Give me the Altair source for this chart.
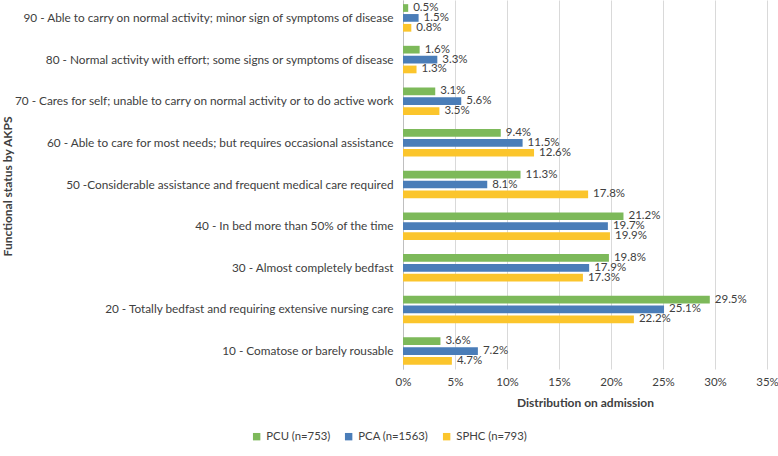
import altair as alt
import pandas as pd

categories = [
    "90 - Able to carry on normal activity; minor sign of symptoms of disease",
    "80 - Normal activity with effort; some signs or symptoms of disease",
    "70 - Cares for self; unable to carry on normal activity or to do active work",
    "60 - Able to care for most needs; but requires occasional assistance",
    "50 -Considerable assistance and frequent medical care required",
    "40 - In bed more than 50% of the time",
    "30 - Almost completely bedfast",
    "20 - Totally bedfast and requiring extensive nursing care",
    "10 - Comatose or barely rousable",
]
series = ["PCU (n=753)", "PCA (n=1563)", "SPHC (n=793)"]
pcu = [0.5, 1.6, 3.1, 9.4, 11.3, 21.2, 19.8, 29.5, 3.6]
pca = [1.5, 3.3, 5.6, 11.5, 8.1, 19.7, 17.9, 25.1, 7.2]
sphc = [0.8, 1.3, 3.5, 12.6, 17.8, 19.9, 17.3, 22.2, 4.7]
colors = ["#7DB95A", "#4A7DB8", "#FBC52C"]

rows = []
for name, vals in zip(series, [pcu, pca, sphc]):
    for cat, v in zip(categories, vals):
        rows.append({"status": cat, "group": name, "pct": v / 100.0,
                     "label": f"{v:.1f}%"})
df = pd.DataFrame(rows)

FONT = "Lato"
TXT = "#404040"

y_enc = alt.Y("status:N", sort=categories,
              scale=alt.Scale(paddingInner=0.34, paddingOuter=0.10),
              axis=alt.Axis(title="Functional status by AKPS", titleFontWeight="bold",
                            titleFontSize=12, titleColor=TXT, titleFont=FONT,
                            titleX=-389, titleY=186, titleAngle=-90,
                            labelFont=FONT, labelFontSize=11.8, labelColor=TXT,
                            labelLimit=500, labelPadding=10, ticks=False,
                            domainColor="#BFBFBF"))
yoff = alt.YOffset("group:N", sort=series, scale=alt.Scale(paddingInner=0.22))

base = alt.Chart(df).encode(
    y=y_enc,
    yOffset=yoff,
)

bars = base.mark_bar().encode(
    x=alt.X("pct:Q", scale=alt.Scale(domain=[0, 0.35]),
            axis=alt.Axis(format=".0%", values=[0, .05, .1, .15, .2, .25, .3, .35],
                          title="Distribution on admission", titleFontWeight="bold",
                          titleFontSize=12, titleColor=TXT, titleFont=FONT,
                          labelFont=FONT, labelFontSize=11.5, labelColor=TXT,
                          labelFlush=False,
                          ticks=False, domain=False, gridColor="#D9D9D9",
                          labelPadding=7, titlePadding=10)),
    color=alt.Color("group:N", sort=series,
                    scale=alt.Scale(domain=series, range=colors),
                    legend=alt.Legend(title=None, orient="none", direction="horizontal",
                                      legendX=-152, legendY=431,
                                      symbolType="square", symbolSize=55,
                                      symbolStrokeWidth=0,
                                      labelFont=FONT, labelFontSize=11.3,
                                      labelColor=TXT, labelOffset=4,
                                      columnPadding=12)),
)

labels = base.mark_text(align="left", baseline="middle", dx=5, font=FONT,
                        fontSize=11.5, color=TXT).encode(
    x="pct:Q",
    text="label:N",
)

chart = (bars + labels).properties(
    width=364, height=369,
    autosize=alt.AutoSizeParams(type="none"),
    padding={"left": 403, "top": 0, "right": 11, "bottom": 87},
).configure_view(stroke=None).configure_axisY(grid=False)

chart.save("out.html", embed_options={"renderer": "svg", "actions": False})
